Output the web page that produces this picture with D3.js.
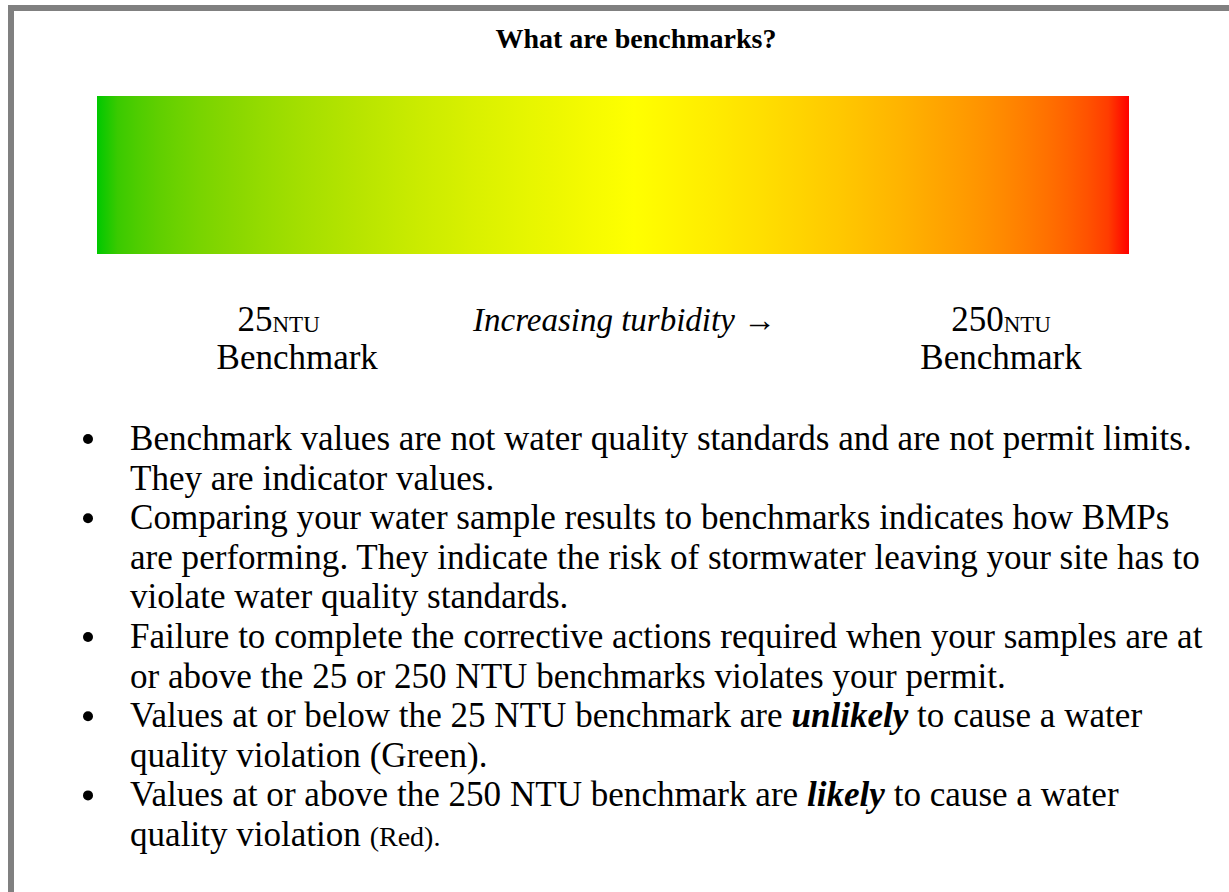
<!DOCTYPE html>
<html lang="en">
<head>
    <meta charset="UTF-8">
    <title>What are benchmarks?</title>
    <script src="https://d3js.org/d3.v7.min.js"></script>
    <style>
        body { margin: 0; background: white; overflow: hidden; }
        svg { display: block; }
        svg text { font-family: "Liberation Serif", "Times New Roman", serif; fill: #000; }
    </style>
</head>
<body>
    <div id="chart"></div>

    <script>
    // Gradient colour stops along the turbidity bar (0 = clean, 1 = turbid)
    const stopColors = ["#00c800", "#ffff00", "#ff0000"];
    const stopOffsets = [0, 0.52, 1];

    // Benchmark labels under the bar
    const benchmarkValues = ["25", "250"];
    const benchmarkUnit = "NTU";
    const benchmarkWord = "Benchmark";
    const axisCaption = "Increasing turbidity \u2192";
    const title = "What are benchmarks?";

    // Bullet text, pre-wrapped; **x** = bold italic, ~x~ = small
    const bullets = [
        ["Benchmark values are not water quality standards and are not permit limits.",
         "They are indicator values."],
        ["Comparing your water sample results to benchmarks indicates how BMPs",
         "are performing. They indicate the risk of stormwater leaving your site has to",
         "violate water quality standards."],
        ["Failure to complete the corrective actions required when your samples are at",
         "or above the 25 or 250 NTU benchmarks violates your permit."],
        ["Values at or below the 25 NTU benchmark are **unlikely** to cause a water",
         "quality violation (Green)."],
        ["Values at or above the 250 NTU benchmark are **likely** to cause a water",
         "quality violation ~(Red).~"]
    ];

    const W = 1229, H = 892;
    const svg = d3.select("#chart").append("svg")
        .attr("width", W).attr("height", H);

    // frame (only top and left edges are visible in the crop)
    svg.append("rect").attr("x", 8).attr("y", 5).attr("width", W - 8).attr("height", 6).attr("fill", "#808080");
    svg.append("rect").attr("x", 8).attr("y", 5).attr("width", 6).attr("height", H - 5).attr("fill", "#808080");

    svg.append("text")
        .attr("x", 636).attr("y", 48)
        .attr("text-anchor", "middle")
        .attr("font-size", 28).attr("font-weight", "bold")
        .text(title);

    // turbidity bar
    const bar = {x0: 97, x1: 1129, y: 96, h: 158};
    const x = d3.scaleLinear().domain([0, 1]).range([bar.x0, bar.x1]);
    const color = d3.scaleLinear().domain(stopOffsets).range(stopColors)
        .interpolate(d3.interpolateRgb.gamma(2.2));

    const grad = svg.append("defs").append("linearGradient")
        .attr("id", "turb").attr("x1", "0%").attr("x2", "100%").attr("y1", "0%").attr("y2", "0%");
    grad.selectAll("stop")
        .data(d3.range(0, 1.0001, 0.02))
        .join("stop")
        .attr("offset", d => (d * 100) + "%")
        .attr("stop-color", d => color(d));

    svg.append("rect")
        .attr("x", x(0)).attr("y", bar.y)
        .attr("width", x(1) - x(0)).attr("height", bar.h)
        .attr("fill", "url(#turb)");

    // benchmark labels
    const valueX = [x(0.176), x(0.876)];
    const wordX = [x(0.194), x(0.876)];
    benchmarkValues.forEach((v, i) => {
        const t = svg.append("text")
            .attr("x", valueX[i]).attr("y", 331)
            .attr("text-anchor", "middle")
            .attr("font-size", 35);
        t.append("tspan").text(v);
        t.append("tspan").attr("font-size", 23).attr("dy", 1).text(benchmarkUnit);
        svg.append("text")
            .attr("x", wordX[i]).attr("y", 369)
            .attr("text-anchor", "middle")
            .attr("font-size", 35)
            .text(benchmarkWord);
    });

    svg.append("text")
        .attr("x", 473).attr("y", 331)
        .attr("font-size", 33).attr("font-style", "italic")
        .text(axisCaption);

    // bullet list
    const lineH = 39.6, listTop = 450, textX = 130, dotX = 88;
    let row = 0;
    bullets.forEach(lines => {
        svg.append("circle")
            .attr("cx", dotX).attr("cy", listTop + row * lineH - 11)
            .attr("r", 5).attr("fill", "#000");
        lines.forEach(line => {
            const t = svg.append("text")
                .attr("x", textX).attr("y", listTop + row * lineH)
                .attr("font-size", 35.1)
                .attr("xml:space", "preserve");
            line.split(/(\*\*[^*]+\*\*|~[^~]+~)/).filter(s => s.length).forEach(seg => {
                const ts = t.append("tspan");
                if (seg.startsWith("**")) {
                    ts.attr("font-weight", "bold").attr("font-style", "italic").text(seg.slice(2, -2));
                } else if (seg.startsWith("~")) {
                    ts.attr("font-size", 28).text(seg.slice(1, -1));
                } else {
                    ts.text(seg);
                }
            });
            row++;
        });
    });
    </script>
</body>
</html>
